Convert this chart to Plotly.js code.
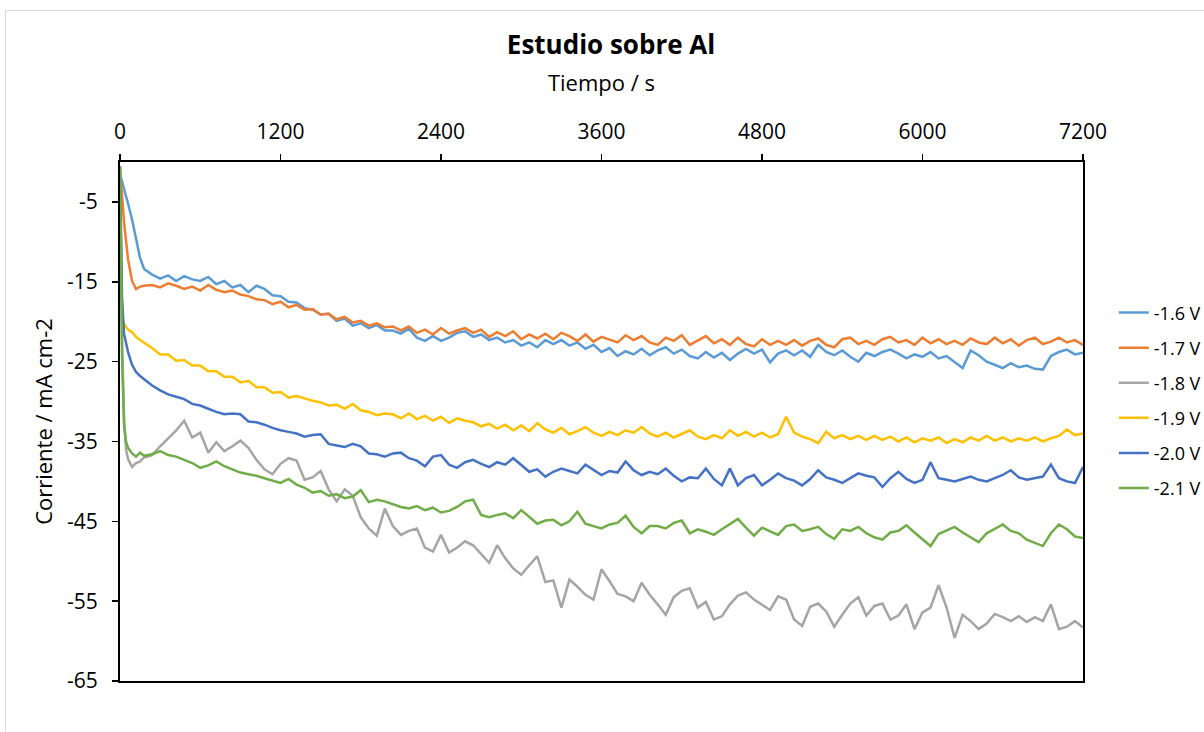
<!DOCTYPE html>
<html><head><meta charset="utf-8">
<script src="https://cdn.plot.ly/plotly-3.0.1.min.js"></script>
<style>html,body{margin:0;padding:0;background:#fff}#chart{width:1204px;height:732px}</style>
</head><body><div id="chart"></div>
<script>
// time in seconds
const time = [0,15,30,45,60,90,120,150,180,
240,300,360,420,480,540,600,660,720,780,
840,900,960,1020,1080,1140,1200,1260,1320,1380,
1440,1500,1560,1620,1680,1740,1800,1860,1920,1980,
2040,2100,2160,2220,2280,2340,2400,2460,2520,2580,
2640,2700,2760,2820,2880,2940,3000,3060,3120,3180,
3240,3300,3360,3420,3480,3540,3600,3660,3720,3780,
3840,3900,3960,4020,4080,4140,4200,4260,4320,4380,
4440,4500,4560,4620,4680,4740,4800,4860,4920,4980,
5040,5100,5160,5220,5280,5340,5400,5460,5520,5580,
5640,5700,5760,5820,5880,5940,6000,6060,6120,6180,
6240,6300,6360,6420,6480,6540,6600,6660,6720,6780,
6840,6900,6960,7020,7080,7140,7200];

const seriesNames = ['-1.6 V','-1.7 V','-1.8 V','-1.9 V','-2.0 V','-2.1 V'];
const seriesColors = ['#5B9BD5','#ED7D31','#A5A5A5','#FFC000','#4472C4','#70AD47'];

const v16 = [-1.5,-2.4,-3.2,-4.3,-5.2,-7.2,-9.8,-12.0,-13.4,
-14.1,-14.6,-14.2,-14.9,-14.3,-14.7,-14.9,-14.4,-15.3,-14.9,
-15.7,-15.4,-16.3,-15.5,-15.9,-16.7,-16.8,-17.5,-17.6,-18.3,
-18.5,-19.1,-19.0,-19.9,-19.6,-20.5,-20.2,-20.8,-20.4,-21.1,
-21.1,-21.5,-20.9,-22.0,-22.4,-21.8,-22.4,-22.0,-21.4,-21.2,
-21.9,-21.6,-22.3,-22.0,-22.6,-22.3,-23.0,-22.6,-23.2,-22.3,
-22.8,-22.3,-23.0,-22.6,-23.4,-22.9,-23.8,-23.3,-24.3,-23.7,
-24.1,-23.4,-24.2,-23.6,-23.2,-24.0,-23.5,-24.3,-24.6,-23.8,
-24.5,-23.9,-24.8,-24.0,-23.4,-24.0,-23.5,-25.1,-24.0,-23.6,
-24.2,-23.6,-24.4,-22.9,-23.8,-24.2,-23.6,-24.4,-25.0,-23.9,
-24.3,-23.8,-23.5,-24.0,-24.6,-24.1,-24.4,-23.8,-24.6,-24.3,
-25.1,-25.8,-23.6,-24.2,-25.0,-25.4,-25.8,-25.2,-25.7,-25.5,
-25.9,-26.0,-24.3,-23.8,-23.5,-24.1,-23.9];

const v17 = [-1.5,-4.0,-7.5,-10.0,-12.2,-14.9,-15.9,-15.6,-15.5,
-15.4,-15.7,-15.2,-15.5,-15.9,-15.6,-16.1,-15.4,-16.0,-16.3,
-16.1,-16.6,-16.8,-17.2,-17.3,-17.8,-17.5,-18.2,-17.9,-18.5,
-18.4,-19.1,-19.0,-19.7,-19.4,-20.1,-19.9,-20.5,-20.2,-20.7,
-20.6,-21.1,-20.6,-21.4,-21.0,-21.6,-20.8,-21.5,-21.1,-20.8,
-21.4,-21.0,-21.9,-21.3,-21.8,-21.2,-22.2,-21.6,-22.1,-21.5,
-22.2,-21.4,-21.8,-22.4,-21.6,-22.5,-21.9,-22.3,-22.6,-21.7,
-22.3,-21.8,-22.6,-22.9,-22.0,-22.4,-21.7,-22.9,-22.3,-21.8,
-22.7,-22.2,-22.9,-22.0,-22.8,-23.1,-22.2,-22.9,-22.4,-22.9,
-22.3,-23.0,-22.4,-22.1,-22.9,-23.2,-22.2,-22.0,-22.8,-22.4,
-22.9,-22.2,-21.9,-22.6,-22.3,-22.9,-22.0,-22.7,-22.2,-22.8,
-22.4,-22.9,-22.1,-22.6,-22.8,-22.0,-22.7,-22.2,-23.0,-22.3,
-22.0,-22.8,-22.5,-22.0,-22.6,-22.3,-22.9];

const v18 = [-0.5,-22.0,-32.0,-36.0,-37.2,-38.2,-37.7,-37.5,-37.0,
-36.7,-35.6,-34.6,-33.6,-32.4,-34.5,-33.9,-36.4,-35.1,-36.2,
-35.6,-34.9,-35.8,-37.3,-38.5,-39.1,-37.8,-37.1,-37.4,-39.8,
-39.5,-38.7,-41.0,-42.5,-41.0,-41.8,-44.5,-45.9,-46.8,-43.4,
-45.6,-46.7,-46.2,-45.9,-48.3,-48.8,-46.7,-48.9,-48.3,-47.5,
-48.0,-49.1,-50.2,-48.0,-49.6,-50.9,-51.7,-50.5,-49.4,-52.6,
-52.4,-55.8,-52.3,-53.2,-54.2,-54.8,-51.0,-52.5,-54.1,-54.4,
-55.0,-52.7,-54.2,-55.4,-56.7,-54.5,-53.7,-53.4,-55.8,-55.1,
-57.3,-56.9,-55.4,-54.3,-53.9,-54.8,-55.5,-56.1,-54.4,-54.8,
-57.3,-58.1,-55.7,-55.3,-56.3,-58.2,-56.7,-55.3,-54.5,-56.8,
-55.6,-55.3,-57.3,-56.8,-55.4,-58.5,-56.4,-55.8,-53.0,-55.8,
-59.6,-56.7,-57.5,-58.5,-57.8,-56.6,-57.0,-57.5,-56.9,-57.6,
-57.0,-57.5,-55.4,-58.5,-58.2,-57.5,-58.3];

const v19 = [-0.5,-19.5,-20.3,-20.6,-21.0,-21.3,-21.9,-22.3,-22.6,
-23.3,-24.1,-24.1,-24.9,-24.8,-25.5,-25.5,-26.2,-26.2,-26.9,
-26.9,-27.6,-27.4,-28.2,-28.2,-28.9,-28.8,-29.5,-29.3,-29.6,
-29.9,-30.1,-30.5,-30.4,-30.9,-30.3,-31.1,-31.3,-31.7,-31.5,
-31.6,-32.1,-31.5,-32.2,-31.8,-32.4,-31.9,-32.7,-32.1,-32.4,
-32.6,-33.1,-32.8,-33.4,-32.9,-33.6,-33.0,-33.7,-32.7,-33.5,
-33.9,-33.3,-34.1,-33.7,-33.2,-33.9,-34.3,-33.8,-34.2,-33.6,
-33.9,-33.2,-34.0,-34.4,-33.9,-34.5,-34.0,-33.6,-34.4,-34.7,
-34.2,-34.6,-33.6,-34.3,-33.8,-34.4,-33.9,-34.5,-34.1,-31.9,
-33.9,-34.4,-34.7,-35.2,-33.8,-34.6,-34.2,-34.7,-34.3,-34.8,
-34.3,-34.8,-34.4,-35.0,-34.5,-35.1,-34.6,-34.9,-34.5,-35.2,
-34.7,-35.1,-34.5,-34.9,-34.3,-34.9,-34.5,-35.0,-34.6,-34.9,
-34.5,-35.0,-34.6,-34.3,-33.5,-34.2,-34.0];

const v20 = [-0.5,-17.0,-21.5,-22.7,-23.8,-25.4,-26.3,-26.8,-27.2,
-28.0,-28.6,-29.1,-29.4,-29.7,-30.3,-30.5,-30.9,-31.3,-31.6,
-31.5,-31.6,-32.5,-32.6,-32.9,-33.3,-33.6,-33.8,-34.0,-34.4,
-34.2,-34.1,-35.3,-35.5,-35.7,-35.3,-35.6,-36.5,-36.6,-36.9,
-36.5,-36.4,-37.1,-37.4,-38.1,-36.9,-36.7,-37.9,-38.3,-37.6,
-37.3,-37.8,-38.2,-37.6,-37.9,-37.1,-38.0,-38.8,-38.5,-39.4,
-38.8,-38.4,-38.7,-39.0,-37.9,-38.6,-39.2,-38.7,-38.9,-37.5,
-38.6,-39.2,-38.8,-39.1,-38.4,-39.3,-40.0,-39.5,-39.6,-38.4,
-39.7,-40.5,-38.4,-40.5,-39.6,-39.2,-40.5,-39.8,-39.0,-39.6,
-39.9,-40.5,-39.7,-38.6,-39.5,-39.8,-40.2,-39.6,-39.0,-39.3,
-39.5,-40.7,-39.6,-38.8,-39.7,-40.2,-39.8,-37.6,-39.6,-39.8,
-40.0,-39.7,-39.4,-39.8,-40.0,-39.6,-39.2,-38.6,-39.5,-39.8,
-39.6,-39.4,-37.9,-39.6,-40.0,-40.2,-38.2];

const v21 = [-0.5,-24.0,-33.0,-35.0,-35.8,-36.5,-36.9,-36.4,-36.8,
-36.6,-36.2,-36.7,-36.9,-37.3,-37.7,-38.3,-38.0,-37.5,-38.1,
-38.5,-38.9,-39.1,-39.3,-39.6,-39.9,-40.2,-39.7,-40.4,-40.8,
-41.4,-41.2,-41.8,-41.6,-42.1,-41.9,-41.1,-42.6,-42.3,-42.5,
-42.9,-43.2,-43.4,-43.1,-43.6,-43.3,-43.9,-43.7,-43.2,-42.5,
-42.3,-44.2,-44.5,-44.2,-44.0,-44.6,-43.6,-44.5,-45.3,-44.9,
-44.8,-45.5,-45.0,-43.8,-45.3,-45.6,-45.9,-45.4,-45.2,-44.3,
-45.7,-46.5,-45.6,-45.6,-45.9,-45.2,-44.9,-46.5,-46.0,-46.3,
-46.7,-46.0,-45.3,-44.7,-45.8,-46.8,-45.8,-46.2,-46.7,-45.6,
-45.4,-46.2,-46.0,-45.7,-46.6,-47.2,-46.0,-46.2,-45.7,-46.5,
-47.0,-47.3,-46.4,-46.2,-45.5,-46.4,-47.3,-48.1,-46.6,-46.2,
-45.7,-46.4,-47.0,-47.6,-46.5,-45.9,-45.4,-46.2,-46.5,-47.3,
-47.7,-48.1,-46.5,-45.4,-46.0,-46.9,-47.1];

const xTickVals = [0,1200,2400,3600,4800,6000,7200];
const yTickVals = [-5,-15,-25,-35,-45,-55,-65];
const yTickText = ['-5','-15','-25','-35','-45','-55','-65'];

const seriesValues = [v16, v17, v18, v19, v20, v21];
const traces = seriesValues.map((vals, i) => ({
  x: time, y: vals, type: 'scatter', mode: 'lines',
  name: seriesNames[i], legendgroup: 'g' + i,
  line: {color: seriesColors[i], width: 2.5}
}));

const layout = {
  width: 1204, height: 732,
  paper_bgcolor: '#fff', plot_bgcolor: '#fff',
  font: {family: '"Open Sans", sans-serif', color: '#000'},
  margin: {l: 120, r: 121, t: 162, b: 51, autoexpand: false},
  showlegend: true,
  title: {text: '<b>Estudio sobre Al</b>', font: {size: 26, color: '#000'},
    xref: 'container', yref: 'container', x: 0.5075, y: 1 - 45/732, xanchor: 'center', yanchor: 'middle'},
  xaxis: {side: 'top', range: [0, 7200], tickvals: xTickVals, ticks: 'outside', ticklen: 6,
    tickwidth: 1.5, tickcolor: '#000', showline: true, linecolor: '#000', linewidth: 2, mirror: true,
    showgrid: false, zeroline: false, automargin: false, tickfont: {size: 21}, ticklabelstandoff: 7,
    title: {text: 'Tiempo / s', font: {size: 22}, standoff: 19}},
  yaxis: {range: [-65, 0], tickvals: yTickVals, ticktext: yTickText, ticks: 'outside', ticklen: 6,
    tickwidth: 1.5, tickcolor: '#000', showline: true, linecolor: '#000', linewidth: 2, mirror: true,
    showgrid: false, zeroline: false, automargin: false, tickfont: {size: 21}, ticklabelstandoff: 10,
    title: {text: 'Corriente / mA cm-2', font: {size: 22}, standoff: 8}},
  legend: {x: 1.032, xanchor: 'left', y: 0.745, yanchor: 'top', font: {size: 18},
    tracegroupgap: 8.7, bgcolor: 'rgba(0,0,0,0)'},
  shapes: [{type: 'rect', xref: 'paper', yref: 'paper', x0: (5.5-120)/963, x1: 1.2,
    y0: -0.2, y1: (681-10.5)/519, line: {color: '#D9D9D9', width: 1}, layer: 'below'}]
};

Plotly.newPlot('chart', traces, layout, {displayModeBar: false, staticPlot: true});
</script></body></html>
